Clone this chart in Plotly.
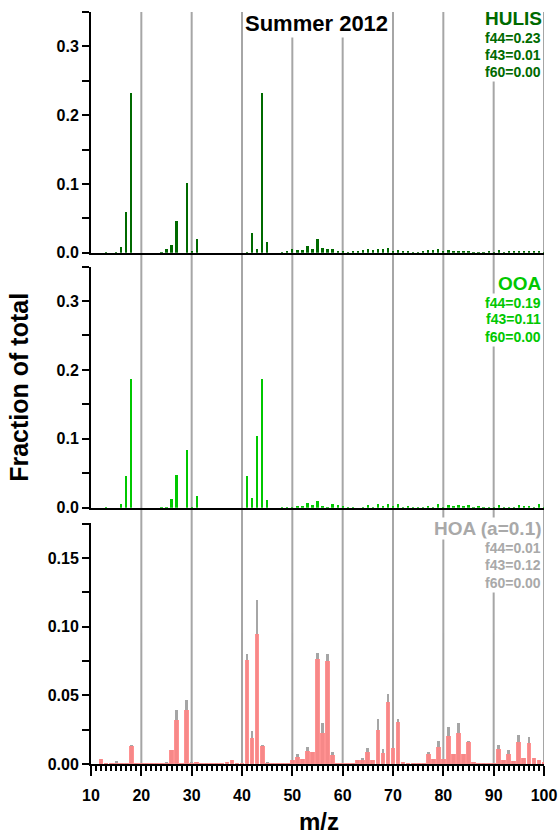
import plotly.graph_objects as go

# ---------------- data ----------------
mz = list(range(12, 101))

hulis = [0, 0.001, 0, 0.0005, 0.009, 0.059, 0.232, 0, 0, 0,
         0, 0, 0.001, 0.005, 0.011, 0.047, 0, 0.102, 0.002, 0.020,
         0, 0, 0, 0, 0, 0, 0, 0, 0, 0.001,
         0.029, 0.006, 0.232, 0.016, 0, 0, 0.001, 0.0015, 0.006, 0.004,
         0.004, 0.010, 0.005, 0.020, 0.0068, 0.005, 0.005, 0.0025, 0.002, 0.0005,
         0.0015, 0.0025, 0.0045, 0.005, 0.0045, 0.0055, 0.005, 0.0068, 0.003, 0.0045,
         0.0015, 0.002, 0.001, 0.001, 0.0015, 0.0045, 0.0035, 0.006, 0.002, 0.004,
         0.0025, 0.0025, 0.0015, 0.003, 0.001, 0.001, 0.001, 0.0015, 0.001, 0.0035,
         0.001, 0.0015, 0.0015, 0.0025, 0.002, 0.002, 0.0015, 0.0015, 0.001]

ooa = [0, 0.001, 0, 0, 0.006, 0.046, 0.187, 0, 0, 0,
       0, 0, 0.001, 0.002, 0.0135, 0.048, 0, 0.085, 0.002, 0.018,
       0, 0, 0, 0, 0, 0, 0, 0, 0, 0.046,
       0.015, 0.105, 0.187, 0.012, 0, 0, 0.001, 0.001, 0.002, 0.003,
       0.003, 0.0075, 0.004, 0.010, 0.003, 0.0005, 0.0065, 0.005, 0.003, 0.0005,
       0.0005, 0, 0.0005, 0.004, 0.0015, 0.0055, 0.0038, 0.0055, 0.0038, 0.0055,
       0.002, 0.0038, 0.0015, 0.001, 0.0005, 0.0038, 0.0015, 0.0055, 0.002, 0.005,
       0.0038, 0.004, 0.003, 0.005, 0.0015, 0.003, 0.001, 0.001, 0.001, 0.004,
       0.001, 0.0015, 0.001, 0.004, 0.0035, 0.0038, 0.0015, 0.0055, 0.001]

hoa = [0.0039, 0.001, 0.0005, 0.001, 0.0005, 0.001, 0.0133, 0.0003, 0.0003, 0.0003,
       0.0003, 0.0005, 0.001, 0.0012, 0.0104, 0.032, 0.001, 0.0396, 0.0012, 0.0015,
       0.0003, 0.0003, 0.0003, 0.0003, 0.0005, 0.0017, 0.003, 0.0003, 0.0003, 0.076,
       0.019, 0.0949, 0.0133, 0.0012, 0.0003, 0.0003, 0.0005, 0.0008, 0.003, 0.0056,
       0.0036, 0.0097, 0.0092, 0.0767, 0.023, 0.0755, 0.007, 0.0008, 0.0005, 0.0005,
       0.0004, 0.003, 0.0034, 0.0092, 0.003, 0.025, 0.0085, 0.0455, 0.0117, 0.031,
       0.002, 0.0012, 0.001, 0.001, 0.001, 0.0075, 0.0036, 0.0127, 0.0036, 0.0209,
       0.0072, 0.0228, 0.0078, 0.016, 0.0015, 0.001, 0.0005, 0.0005, 0.001, 0.011,
       0.0028, 0.0076, 0.0026, 0.0163, 0.0043, 0.0153, 0.0044, 0.003, 0.0013]

hoa_ref = [0.004, 0.001, 0.0005, 0.0025, 0.0005, 0.001, 0.014, 0.0003, 0.0003, 0.0003,
           0.0003, 0.0005, 0.001, 0.002, 0.0107, 0.0398, 0.001, 0.0466, 0.0015, 0.002,
           0.0003, 0.0003, 0.0003, 0.0003, 0.0005, 0.0017, 0.003, 0.0003, 0.0003, 0.0803,
           0.0245, 0.1197, 0.014, 0.0015, 0.0003, 0.0003, 0.0005, 0.0008, 0.003, 0.0075,
           0.004, 0.0126, 0.0092, 0.0813, 0.0299, 0.080, 0.009, 0.0008, 0.0005, 0.0005,
           0.0004, 0.003, 0.0044, 0.012, 0.003, 0.0328, 0.011, 0.051, 0.0117, 0.0329,
           0.002, 0.0012, 0.001, 0.001, 0.001, 0.0092, 0.0036, 0.0167, 0.0036, 0.0272,
           0.0072, 0.0298, 0.0078, 0.0166, 0.0015, 0.001, 0.0005, 0.0005, 0.001, 0.014,
           0.0028, 0.0104, 0.0026, 0.0214, 0.0043, 0.020, 0.0044, 0.003, 0.0013]

grid_mz = [20, 30, 40, 50, 60, 70, 80, 90, 100]
x_ticks = [10, 20, 30, 40, 50, 60, 70, 80, 90, 100]

panels = [
    dict(name="HULIS", color="#006a00", f44="0.23", f43="0.01", f60="0.00"),
    dict(name="OOA", color="#00c800", f44="0.19", f43="0.11", f60="0.00"),
    dict(name="HOA (a=0.1)", color="#a9a9a9", f44="0.01", f43="0.12", f60="0.00"),
]

# ---------------- layout helpers ----------------
W, H = 559, 838
L, R, T, B = 91, 15, 12, 73.6
plot_h = H - T - B
plot_w = W - L - R

def py(px):
    return (H - B - px) / plot_h

def pxx(px):
    return (px - L) / plot_w

FONT = "Arial, Liberation Sans, sans-serif"

fig = go.Figure()

fig.add_trace(go.Bar(x=mz, y=hulis, width=0.45, marker=dict(color="#006a00", line=dict(width=0)),
                     xaxis="x", yaxis="y", showlegend=False))
fig.add_trace(go.Bar(x=mz, y=ooa, width=0.45, marker=dict(color="#00c800", line=dict(width=0)),
                     xaxis="x2", yaxis="y2", showlegend=False))
fig.add_trace(go.Bar(x=mz, y=hoa_ref, width=0.55, marker=dict(color="#a6a6a6", line=dict(width=0)),
                     xaxis="x3", yaxis="y3", showlegend=False))
fig.add_trace(go.Bar(x=mz, y=hoa, width=0.95, marker=dict(color="#ff8585", line=dict(width=0)),
                     opacity=0.9, xaxis="x3", yaxis="y3", showlegend=False))

dom_top = [py(253), 1.0]
dom_mid = [py(508), py(266.7)]
dom_bot = [0.0, py(523)]

xcommon = dict(range=[10, 100], showline=True, linewidth=2, linecolor="black",
               showgrid=False, zeroline=False, automargin=False)
ycommon = dict(showline=True, linewidth=2, linecolor="black", showgrid=False, zeroline=False,
               automargin=False,
               ticks="outside", ticklen=7, tickwidth=2, tickcolor="black",
               tickfont=dict(family=FONT, size=16, color="black", weight="bold"))

fig.update_layout(
    width=W, height=H,
    margin=dict(l=L, r=R, t=T, b=B, autoexpand=False),
    paper_bgcolor="white", plot_bgcolor="rgba(0,0,0,0)",
    barmode="overlay", bargap=0,
    xaxis=dict(**xcommon, domain=[0, 1], anchor="y", showticklabels=False, ticks=""),
    xaxis2=dict(**xcommon, domain=[0, 1], anchor="y2", showticklabels=False, ticks=""),
    xaxis3=dict(**xcommon, domain=[0, 1], anchor="y3", tickmode="array", tickvals=x_ticks,
                ticks="outside", ticklen=10, tickwidth=2, tickcolor="black", ticklabelstandoff=6,
                tickfont=dict(family=FONT, size=16, color="black", weight="bold"),
                minor=dict(dtick=1, tick0=10, ticks="outside", ticklen=5, tickwidth=1.5, tickcolor="black")),
    yaxis=dict(**ycommon, domain=dom_top, anchor="x", range=[0, 0.35], dtick=0.1, tickformat=".1f",
               minor=dict(dtick=0.05, ticks="outside", ticklen=7, tickwidth=2, tickcolor="black")),
    yaxis2=dict(**ycommon, domain=dom_mid, anchor="x2", range=[0, 0.35], dtick=0.1, tickformat=".1f",
                minor=dict(dtick=0.05, ticks="outside", ticklen=7, tickwidth=2, tickcolor="black")),
    yaxis3=dict(**ycommon, domain=dom_bot, anchor="x3", range=[0, 0.1757], dtick=0.05, tickformat=".2f",
                minor=dict(dtick=0.025, ticks="outside", ticklen=7, tickwidth=2, tickcolor="black")),
)

# vertical reference lines spanning all panels
for g in grid_mz:
    fig.add_shape(type="line", xref="x3", yref="paper", x0=g, x1=g, y0=0, y1=1,
                  line=dict(color="#a6a6a6", width=2), layer="below")

annots = []
annots.append(dict(text="<b>Summer 2012</b>", xref="paper", yref="paper", x=pxx(316.7), y=py(23.8),
                   xanchor="center", yanchor="middle", showarrow=False, bgcolor="white", borderpad=1,
                   font=dict(family=FONT, size=22, color="black")))

label_pos = [
    (18.4, 38.1, 55.1, 71.6),
    (283.4, 302.8, 319.4, 336.8),
    (529.1, 548.4, 565.4, 583.1),
]
xr = pxx(542.7)
for p, pos in zip(panels, label_pos):
    annots.append(dict(text="<b>%s</b>" % p["name"], xref="paper", yref="paper", x=xr, y=py(pos[0]),
                       xanchor="right", yanchor="middle", showarrow=False, bgcolor="white", borderpad=0,
                       font=dict(family=FONT, size=19, color=p["color"])))
    for key, yy in zip(["f44", "f43", "f60"], pos[1:]):
        annots.append(dict(text="<b>%s=%s</b>" % (key, p[key]), xref="paper", yref="paper", x=xr, y=py(yy),
                           xanchor="right", yanchor="middle", showarrow=False, bgcolor="white", borderpad=1,
                           font=dict(family=FONT, size=14, color=p["color"])))

annots.append(dict(text="<b>Fraction of total</b>", xref="paper", yref="paper", x=pxx(19), y=py(388),
                   xanchor="center", yanchor="middle", textangle=-90, showarrow=False,
                   font=dict(family=FONT, size=25, color="black")))
annots.append(dict(text="<b>m/z</b>", xref="paper", yref="paper", x=pxx(318.5), y=py(822),
                   xanchor="center", yanchor="middle", showarrow=False,
                   font=dict(family=FONT, size=24, color="black")))
fig.update_layout(annotations=annots)

fig.write_html("out.html")
